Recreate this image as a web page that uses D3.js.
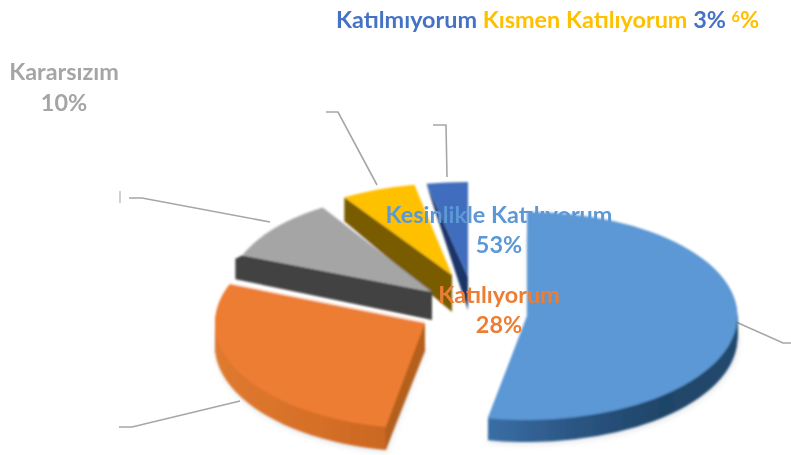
<!DOCTYPE html>
<html><head><meta charset="utf-8">
<script src="https://cdn.jsdelivr.net/npm/d3@7"></script>
<style>html,body{margin:0;background:#fff}svg{display:block}text{font-family:Lato,Carlito,sans-serif;font-weight:700}</style>
</head><body><svg id="c" width="791" height="455"></svg>
<script>
const categories=["Kesinlikle Katılıyorum","Katılıyorum","Kararsızım","Kısmen Katılıyorum","Katılmıyorum"];
const values=[53,28,10,6,3];
const topColors=["#5b98d5","#ed7d31","#a5a5a5","#ffc000","#3f6dbd"];
const faceColors=[null,"#b4601f","#434343","#7a5c00","#1c3468"];
// layout of each exploded slice
const centersX=[527,425,432,452,468];
const centersY=[316,323,292,275,277];
const radiiX=[210,210,204,201,222];
const radiiY=[104,106,100,92,95];
const rimDepth=[22,23,0,0,0];
const apexDepth=[0,28,28,37,33];
const cornerDepth=[0,23,24,24,16];
const cornerShift=[0,0,-7,0,5];
const leaderElbows=[[[736,322],[783,343],[791,343]],[[240,401],[132,427],[119,427]],[[270,222],[142,198],[129,198]],[[377,185],[338,112],[326,112]],[[447,177],[446,125],[433,125]]];

const svg=d3.select("#c");
const defs=svg.append("defs");
const blur=(id,s)=>defs.append("filter").attr("id",id).attr("x","-10%").attr("y","-10%").attr("width","120%").attr("height","120%").append("feGaussianBlur").attr("stdDeviation",s);
blur("soft",0.8);blur("softer",0.45);blur("shadow",3);
const grad=(id,stops)=>{const g=defs.append("linearGradient").attr("id",id);stops.forEach(([o,c])=>g.append("stop").attr("offset",o).attr("stop-color",c));};
grad("rim0",[[0,"#3a6fa6"],[0.35,"#2b5582"],[0.7,"#1f4568"],[1,"#24496e"]]);
grad("rim1",[[0,"#e07a30"],[0.5,"#d56f27"],[1,"#c4631f"]]);

const pie=d3.pie().value(d=>d).sort(null);
const arcs=pie(values);
const unit=d3.arc().innerRadius(0).outerRadius(1);
const pt=(i,a)=>[centersX[i]+radiiX[i]*Math.sin(a),centersY[i]-radiiY[i]*Math.cos(a)];

const leaders=svg.append("g").attr("filter","url(#softer)");
leaderElbows.forEach(p=>leaders.append("path").attr("d",d3.line()(p)).attr("fill","none").attr("stroke","#a6a6a6").attr("stroke-width",1.6));
leaders.append("line").attr("x1",120).attr("x2",120).attr("y1",191).attr("y2",203).attr("stroke","#c4c4c4").attr("stroke-width",1.6);

// soft shadow under the two large slices
const shadow=svg.append("g").attr("filter","url(#shadow)").attr("opacity",0.22);
[0,1].forEach(i=>shadow.append("path").attr("d",unit(arcs[i]))
  .attr("transform",`translate(${centersX[i]+1},${centersY[i]+rimDepth[i]+2}) scale(${radiiX[i]},${radiiY[i]})`).attr("fill","#7a8a9a"));

const chart=svg.append("g").attr("filter","url(#soft)");
[4,3,2,1,0].forEach(i=>{
  const g=chart.append("g");
  d3.range(rimDepth[i],0,-1).forEach(d=>{
    g.append("path").attr("d",unit(arcs[i]))
     .attr("transform",`translate(${centersX[i]},${centersY[i]+d}) scale(${radiiX[i]},${radiiY[i]})`)
     .attr("fill",`url(#rim${i})`);
  });
  if(faceColors[i]){
    const corner=pt(i,arcs[i].startAngle);
    const apex=[centersX[i],centersY[i]];
    const poly=[apex,corner,[corner[0]+cornerShift[i],corner[1]+cornerDepth[i]*(i===4?1:0.15)],[corner[0]+cornerShift[i],corner[1]+cornerDepth[i]],[apex[0],apex[1]+apexDepth[i]]];
    g.append("path").attr("d",d3.line()(poly)+"Z").attr("fill",faceColors[i]);
  }
  if(i===1){
    // thin highlight between the grey side and the orange top
    g.append("path").attr("d",d3.line()([[centersX[i],centersY[i]-1],pt(i,arcs[i].endAngle)])).attr("stroke","#fff3e6").attr("stroke-width",2.5).attr("fill","none");
  }
  g.append("path").attr("d",unit(arcs[i]))
   .attr("transform",`translate(${centersX[i]},${centersY[i]}) scale(${radiiX[i]},${radiiY[i]})`)
   .attr("fill",topColors[i]);
});

const labels=svg.append("g").attr("filter","url(#softer)").attr("font-size",23.4).attr("text-anchor","middle");
const pct=v=>v+"%";
const lab=(t,x,y,c)=>labels.append("text").attr("x",x).attr("y",y).attr("fill",c).text(t);
lab(categories[2],64,80,topColors[2]);lab(pct(values[2]),64,111,topColors[2]);
lab(categories[0],499,223,topColors[0]);lab(pct(values[0]),499,253,topColors[0]);
lab(categories[1],499,303,topColors[1]);lab(pct(values[1]),499,333,topColors[1]);
const head=svg.append("text").attr("x",336).attr("y",28).attr("font-size",23.4).attr("filter","url(#softer)");
head.append("tspan").attr("fill","#4472c4").text(categories[4]+" ");
head.append("tspan").attr("fill","#ffc000").text(categories[3]+" ");
head.append("tspan").attr("fill","#4472c4").text(pct(values[4])+" ");
head.append("tspan").attr("fill","#ffc000").attr("font-size",14.5).attr("dy",-6).text(String(values[3]));
head.append("tspan").attr("fill","#ffc000").attr("dy",6).text("%");
</script></body></html>
